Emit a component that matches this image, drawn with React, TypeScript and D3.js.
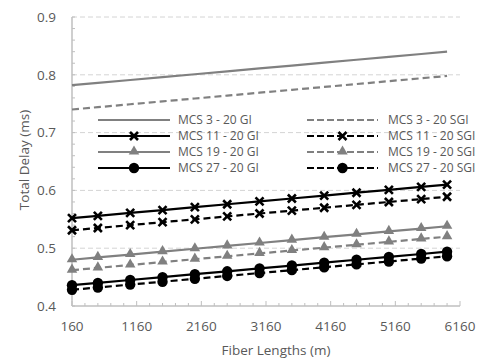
import React from 'react';
import * as d3 from 'd3';

// fiber lengths in metres (x) and total delay in ms (y)
const fiberLengths = [160, 560, 1060, 1560, 2060, 2560, 3060, 3560, 4060, 4560, 5060, 5560, 5960];

const mcs3Gi = [0.782, 0.786, 0.791, 0.796, 0.801, 0.806, 0.811, 0.816, 0.821, 0.826, 0.831, 0.836, 0.840];
const mcs3Sgi = [0.740, 0.744, 0.749, 0.754, 0.759, 0.764, 0.769, 0.774, 0.779, 0.784, 0.789, 0.794, 0.798];
const mcs11Gi = [0.552, 0.556, 0.561, 0.566, 0.571, 0.576, 0.581, 0.586, 0.591, 0.596, 0.601, 0.606, 0.610];
const mcs11Sgi = [0.531, 0.535, 0.540, 0.545, 0.550, 0.555, 0.560, 0.565, 0.570, 0.575, 0.580, 0.585, 0.589];
const mcs19Gi = [0.480, 0.484, 0.489, 0.494, 0.499, 0.504, 0.509, 0.514, 0.519, 0.524, 0.529, 0.534, 0.538];
const mcs19Sgi = [0.462, 0.466, 0.471, 0.476, 0.481, 0.486, 0.491, 0.496, 0.501, 0.506, 0.511, 0.516, 0.520];
const mcs27Gi = [0.436, 0.440, 0.445, 0.450, 0.455, 0.460, 0.465, 0.470, 0.475, 0.480, 0.485, 0.490, 0.494];
const mcs27Sgi = [0.428, 0.432, 0.437, 0.442, 0.447, 0.452, 0.457, 0.462, 0.467, 0.472, 0.477, 0.482, 0.486];

const xTicks = [160, 1160, 2160, 3160, 4160, 5160, 6160];
const yTicks = [0.4, 0.5, 0.6, 0.7, 0.8, 0.9];

type Marker = 'none' | 'x' | 'triangle' | 'circle';

interface Series {
  name: string;
  values: number[];
  color: string;
  dashed: boolean;
  marker: Marker;
}

const series: Series[] = [
  { name: 'MCS 3 - 20 GI', values: mcs3Gi, color: '#808080', dashed: false, marker: 'none' },
  { name: 'MCS 3 - 20 SGI', values: mcs3Sgi, color: '#808080', dashed: true, marker: 'none' },
  { name: 'MCS 11 - 20 GI', values: mcs11Gi, color: '#000000', dashed: false, marker: 'x' },
  { name: 'MCS 11 - 20 SGI', values: mcs11Sgi, color: '#000000', dashed: true, marker: 'x' },
  { name: 'MCS 19 - 20 GI', values: mcs19Gi, color: '#808080', dashed: false, marker: 'triangle' },
  { name: 'MCS 19 - 20 SGI', values: mcs19Sgi, color: '#808080', dashed: true, marker: 'triangle' },
  { name: 'MCS 27 - 20 GI', values: mcs27Gi, color: '#000000', dashed: false, marker: 'circle' },
  { name: 'MCS 27 - 20 SGI', values: mcs27Sgi, color: '#000000', dashed: true, marker: 'circle' },
];

const width = 479, height = 360;
const plot = { left: 72, right: 460, top: 17, bottom: 306 };
const font = '"Open Sans", "Noto Sans", sans-serif';
const textColor = '#595959';
const gridColor = '#d4d4d4';
const axisColor = '#bfbfbf';

const MarkerShape: React.FC<{ kind: Marker; x: number; y: number; color: string }> = ({ kind, x, y, color }) => {
  if (kind === 'x') {
    const s = 4;
    return (
      <path
        d={`M${x - s},${y - s}L${x + s},${y + s}M${x - s},${y + s}L${x + s},${y - s}`}
        stroke={color}
        strokeWidth={2.6}
        fill="none"
      />
    );
  }
  if (kind === 'triangle') {
    return <path d={d3.symbol().type(d3.symbolTriangle).size(48)()!} transform={`translate(${x},${y - 0.5})`} fill={color} />;
  }
  if (kind === 'circle') {
    return <circle cx={x} cy={y} r={5.2} fill={color} />;
  }
  return null;
};

const App: React.FC = () => {
  const x = d3.scaleLinear().domain([160, 6160]).range([plot.left, plot.right]);
  const y = d3.scaleLinear().domain([0.4, 0.9]).range([plot.bottom, plot.top]);

  const line = d3
    .line<number>()
    .x((_, i) => x(fiberLengths[i]))
    .y((d) => y(d));

  const minorX = d3.range(160, 6160 + 1, 200);
  const minorY = d3.range(0, 26).map((i) => 0.4 + i * 0.02);

  const legendRows = [120, 136, 152, 168];
  const legendCols = [
    { x0: 98, x1: 170, tx: 178 },
    { x0: 307, x1: 378, tx: 388 },
  ];

  return (
    <>
      <style>{'body{margin:0}'}</style>
      <svg width={width} height={height} style={{ display: 'block', background: '#fff' }} fontFamily={font}>
        {/* gridlines */}
        {yTicks.slice(1).map((t) => (
          <line key={t} x1={plot.left} x2={plot.right} y1={y(t)} y2={y(t)} stroke={gridColor} strokeWidth={1} strokeDasharray="5,3" />
        ))}

        {/* axes */}
        <line x1={plot.left} x2={plot.left} y1={plot.top} y2={plot.bottom} stroke={axisColor} strokeWidth={1.5} />
        <line x1={plot.left} x2={plot.right} y1={plot.bottom} y2={plot.bottom} stroke={axisColor} strokeWidth={1.5} />
        {minorY.map((t) => (
          <line key={t} x1={plot.left} x2={plot.left + 3} y1={y(t)} y2={y(t)} stroke={axisColor} strokeWidth={1} />
        ))}
        {minorX.map((t) => (
          <line
            key={t}
            x1={x(t)}
            x2={x(t)}
            y1={plot.bottom}
            y2={plot.bottom - ((t - 160) % 1000 === 0 ? 5 : 3)}
            stroke={axisColor}
            strokeWidth={1}
          />
        ))}

        {/* tick labels */}
        {yTicks.map((t) => (
          <text key={t} x={56} y={y(t)} dy="0.35em" textAnchor="end" fontSize={13.5} fill={textColor}>
            {t.toFixed(1)}
          </text>
        ))}
        {xTicks.map((t) => (
          <text key={t} x={x(t)} y={326} dy="0.35em" textAnchor="middle" fontSize={13.5} fill={textColor}>
            {t}
          </text>
        ))}

        {/* axis titles */}
        <text x={276} y={350} dy="0.35em" textAnchor="middle" fontSize={13.5} fill={textColor}>
          Fiber Lengths (m)
        </text>
        <text
          transform={`translate(24,160) rotate(-90)`}
          dy="0.35em"
          textAnchor="middle"
          fontSize={13.5}
          fill={textColor}
        >
          Total Delay (ms)
        </text>

        {/* series */}
        {series.map((s) => (
          <g key={s.name}>
            <path
              d={line(s.values)!}
              fill="none"
              stroke={s.color}
              strokeWidth={2.2}
              strokeDasharray={s.dashed ? '7,4' : undefined}
            />
            {s.marker !== 'none' &&
              s.values.map((v, i) => (
                <MarkerShape key={i} kind={s.marker} x={x(fiberLengths[i])} y={y(v)} color={s.color} />
              ))}
          </g>
        ))}

        {/* legend */}
        {series.map((s, i) => {
          const col = legendCols[i % 2];
          const ry = legendRows[Math.floor(i / 2)];
          return (
            <g key={s.name}>
              <line
                x1={col.x0}
                x2={col.x1}
                y1={ry}
                y2={ry}
                stroke={s.color}
                strokeWidth={2.2}
                strokeDasharray={s.dashed ? '7,3' : undefined}
              />
              <MarkerShape kind={s.marker} x={(col.x0 + col.x1) / 2} y={ry} color={s.color} />
              <text x={col.tx} y={ry} dy="0.35em" fontSize={12} fill={textColor}>
                {s.name}
              </text>
            </g>
          );
        })}
      </svg>
    </>
  );
};

export default App;
